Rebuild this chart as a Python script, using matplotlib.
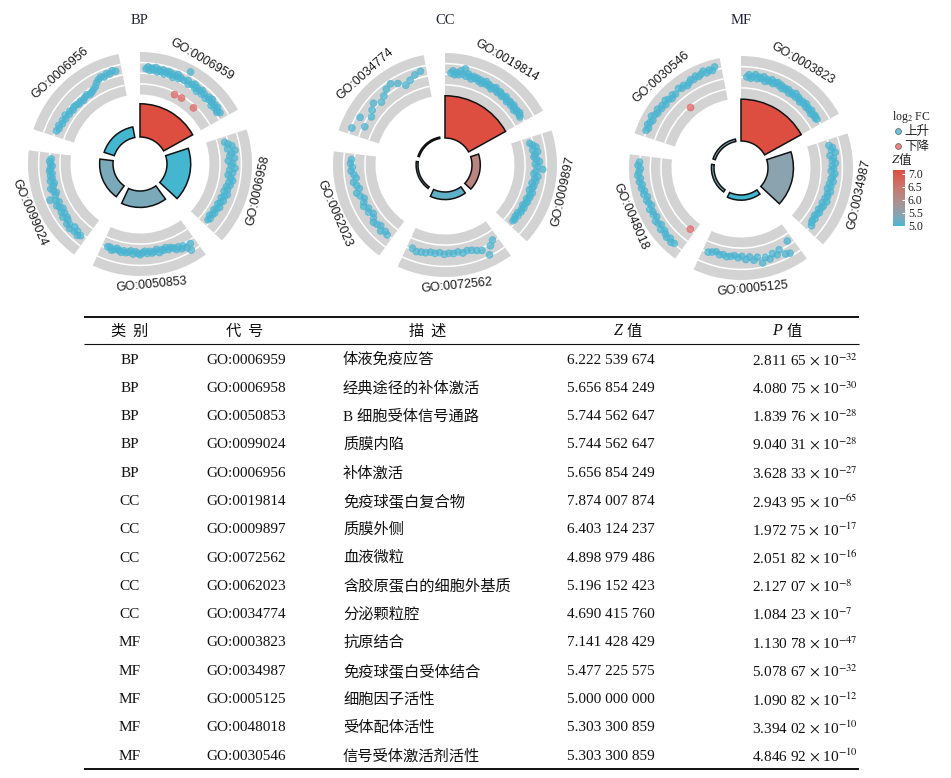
import numpy as np
import matplotlib
matplotlib.use('Agg')
import matplotlib.pyplot as plt
from matplotlib.patches import Wedge, Arc
from matplotlib.colors import ListedColormap, Normalize, to_rgb
import matplotlib.colorbar as mcolorbar

plt.rcParams['mathtext.fontset'] = 'stix'

# ---------------- data ----------------
panels = ['BP', 'CC', 'MF']
categories = ['BP'] * 5 + ['CC'] * 5 + ['MF'] * 5
go_ids = ['GO:0006959', 'GO:0006958', 'GO:0050853', 'GO:0099024', 'GO:0006956',
          'GO:0019814', 'GO:0009897', 'GO:0072562', 'GO:0062023', 'GO:0034774',
          'GO:0003823', 'GO:0034987', 'GO:0005125', 'GO:0048018', 'GO:0030546']
descriptions = ['体液免疫应答', '经典途径的补体激活', 'B 细胞受体信号通路', '质膜内陷', '补体激活',
                '免疫球蛋白复合物', '质膜外侧', '血液微粒', '含胶原蛋白的细胞外基质', '分泌颗粒腔',
                '抗原结合', '免疫球蛋白受体结合', '细胞因子活性', '受体配体活性', '信号受体激活剂活性']
z_values = [6.222539674, 5.656854249, 5.744562647, 5.744562647, 5.656854249,
            7.874007874, 6.403124237, 4.898979486, 5.196152423, 4.690415760,
            7.141428429, 5.477225575, 5.000000000, 5.303300859, 5.303300859]
p_values = [2.81165e-32, 4.08075e-30, 1.83976e-28, 9.04031e-28, 3.62833e-27,
            2.94395e-65, 1.97275e-17, 2.05182e-16, 2.12707e-8, 1.08423e-7,
            1.13078e-47, 5.07867e-32, 1.09082e-12, 3.39402e-10, 4.84692e-10]

# log2 FC of the genes of each term (in order along the sector)
lfc_0006959 = [2.5, 2.9, 2.2, 2.7, 2.4, 3.0, 2.1, 2.6, 2.3, 2.8, 2.0, 2.5, 2.8, 2.2, 2.6, 1.9, 2.4, 2.9,
               2.1, 2.5, -1.3, 2.3, 4.5, 2.7, 2.0, -1.2, 2.4, 2.8, 2.1, 2.5, 1.8, 2.3, 2.7, 2.0, 2.4,
               -1.3, 1.9, 2.6, 2.2, 2.8, 2.3, 1.8, 2.5, 2.0, 2.6, 2.1, 1.9, 2.4]
lfc_0006958 = [0.8, 1.4, 2.1, 1.1, 2.6, 1.8, 1.4, 2.3, 1.0, 1.9, 1.6, 2.4, 1.3, 2.0, 1.1, 1.7, 2.2,
               1.5, 1.9, 1.2, 1.6, 1.0, 1.9, 1.4, 0.9, 1.6, 1.2, 0.8, 1.5, 1.1, 0.7, 1.2, 1.0, 0.6,
               1.1, 0.9]
lfc_0050853 = [2.2, 3.5, 2.6, 1.9, 2.3, 1.6, 2.0, 1.4, 1.1, 1.4, 0.8, 1.2, 1.0, 1.5, 0.7, 1.1, 1.3,
               0.9, 1.3, 0.8, 1.1, 1.5, 1.2, 0.9, 1.4, 0.8, 1.1, 1.3, 1.0, 1.4, 1.1, 0.8, 1.2, 1.5,
               1.0, 1.1]
lfc_0099024 = [2.0, 2.4, 1.7, 2.2, 1.5, 2.5, 1.9, 2.3, 1.6, 1.4, 2.1, 1.3, 1.8, 1.1, 1.6, 2.0, 1.2,
               1.7, 2.8, 1.4, 1.0, 1.5, 1.9, 1.2, 0.9, 1.6, 1.1, 1.4, 1.0, 1.5, 1.3, 0.9, 1.2, 1.4, 1.1]
lfc_0006956 = [1.3, 1.0, 1.3, 0.8, 1.1, 0.7, 1.2, 0.6, 0.9, 0.5, 0.8, 0.7, 0.4, 0.6, 0.3, 0.6, 0.8,
               0.4, 0.6, 0.9, 1.2, 1.8, 2.2, 2.5, 2.2, 2.7, 2.4, 2.9, 2.6]
lfc_0019814 = [1.8, 2.3, 1.5, 2.0, 1.6, 2.5, 1.9, 3.1, 1.6, 2.2, 1.8, 1.3, 2.0, 1.7, 1.9, 1.4, 1.8,
               1.2, 1.6, 2.0, 1.4, 1.7, 1.5, 1.1, 1.6, 1.9, 1.4, 1.2, 1.7, 1.5, 1.1, 1.4, 1.7, 1.3,
               1.0, 1.5, 1.4, 1.1, 1.6, 1.3, 0.9, 1.4, 1.2, 1.6, 1.3, 1.1]
lfc_0009897 = [0.8, 1.3, 1.9, 1.1, 2.1, 1.5, 1.2, 1.7, 2.3, 1.4, 1.9, 3.0, 1.6, 1.2, 2.1, 1.5, 1.8,
               1.1, 1.6, 1.4, 0.9, 1.7, 1.3, 1.5, 1.0, 1.4, 1.2, 0.8, 1.3, 1.0, 1.2, 0.7, 1.1, 0.7,
               1.0, 0.9]
lfc_0072562 = [1.1, 1.9, 3.5, 2.0, 1.6, 1.2, 1.0, 1.3, 0.9, 1.1, 1.0, 1.2, 0.9, 1.1, 1.0, 1.3, 1.4,
               1.6, 1.2]
lfc_0062023 = [1.5, 1.2, 1.8, 1.0, 1.4, 1.7, 1.1, 0.6, 1.3, 0.9, 1.6, 1.2, 0.8, 1.4, 1.9, 1.1, 1.5,
               2.0, 1.3, 1.7, 2.2, 1.9, 2.3, 2.1]
lfc_0034774 = [3.5, 1.1, 2.9, 0.9, 1.6, 2.3, 1.2, 1.8, 2.6, 3.0, 2.2, 1.1, 1.7, 2.4, 2.8]
lfc_0003823 = [1.6, 2.1, 1.4, 1.8, 2.3, 1.5, 1.9, 1.7, 2.2, 1.3, 1.8, 1.6, 2.1, 1.4, 1.7, 2.0, 1.5,
               1.8, 1.2, 1.6, 1.4, 1.7, 1.1, 1.5, 1.3, 1.9, 1.2, 1.6, 1.4, 1.0, 1.5, 1.3, 1.7, 1.1,
               1.4, 1.2, 1.6, 1.0, 1.3, 1.5, 1.2, 1.4]
lfc_0034987 = [1.5, 2.1, 1.8, 2.5, 1.3, 2.0, 1.7, 2.3, 1.6, 1.9, 1.4, 2.2, 1.8, 1.5, 2.0, 1.3, 1.7,
               1.1, 1.9, 1.4, 1.6, 1.2, 1.8, 1.0, 1.5, 1.3, 0.9, 1.4, 1.1, 0.8, 1.3, 1.0, 1.2, 1.6]
lfc_0005125 = [0.6, 3.1, 2.8, 1.4, 2.2, 1.6, 2.5, 1.9, 2.9, 1.5, 2.0, 1.2, 1.7, 1.0, 1.3, 0.9, 1.1,
               1.3, 1.0, 1.2, 0.8, 1.1, 1.4]
lfc_0048018 = [-0.9, 3.6, 3.9, 3.4, 3.8, 3.5, 3.2, 3.7, 3.0, 3.4, 3.6, 2.9, 3.3, 3.1, 3.5, 2.8, 3.2,
               3.4, 3.0, 3.6, 3.3, 3.8, 3.5, 4.0, 3.7, 4.2, 3.9, 3.6, 4.1, 3.8]
lfc_0030546 = [3.9, 3.6, 4.1, 3.8, 3.5, 4.2, 3.7, 3.4, 3.9, 3.3, 3.6, 3.1, 3.8, 3.4, 3.0, 3.5, 3.2,
               -1.05, 3.7, 3.3, 3.6, 3.1, 3.4, 3.8, 3.5, 4.0, 3.6, 3.9, 4.3, 3.7, 4.1, 3.8, 4.4]

gene_lfc = {
    'GO:0006959': lfc_0006959, 'GO:0006958': lfc_0006958, 'GO:0050853': lfc_0050853,
    'GO:0099024': lfc_0099024, 'GO:0006956': lfc_0006956, 'GO:0019814': lfc_0019814,
    'GO:0009897': lfc_0009897, 'GO:0072562': lfc_0072562, 'GO:0062023': lfc_0062023,
    'GO:0034774': lfc_0034774, 'GO:0003823': lfc_0003823, 'GO:0034987': lfc_0034987,
    'GO:0005125': lfc_0005125, 'GO:0048018': lfc_0048018, 'GO:0030546': lfc_0030546,
}

legend_levels = ['上升', '下降']
cbar_ticks = [5.0, 5.5, 6.0, 6.5, 7.0]

# ---------------- style ----------------
W, H = 951, 778
BLUE_END = '#45B6D0'
RED_END = '#DD4E41'
GREY = '#D3D3D3'
DOT_UP = '#4AB4D0'
DOT_DOWN = '#E06464'
LAT_SERIF = 'Liberation Serif'
CJK = 'Noto Sans CJK SC'
MIXED = [LAT_SERIF, CJK]

M = np.array([[0.4124564, 0.3575761, 0.1804375],
              [0.2126729, 0.7151522, 0.0721750],
              [0.0193339, 0.1191920, 0.9503041]])
WP = np.array([0.95047, 1.0, 1.08883])


def srgb_to_lab(rgb):
    rgb = np.asarray(rgb, float)
    lin = np.where(rgb <= 0.04045, rgb / 12.92, ((rgb + 0.055) / 1.055) ** 2.4)
    t = (M @ lin) / WP
    d = 6 / 29
    f = np.where(t > d ** 3, np.cbrt(t), t / (3 * d * d) + 4 / 29)
    return np.array([116 * f[1] - 16, 500 * (f[0] - f[1]), 200 * (f[1] - f[2])])


def lab_to_srgb(lab):
    L, a, b = lab
    fy = (L + 16) / 116
    f = np.array([fy + a / 500, fy, fy - b / 200])
    d = 6 / 29
    t = np.where(f > d, f ** 3, 3 * d * d * (f - 4 / 29))
    lin = np.linalg.inv(M) @ (t * WP)
    lin = np.clip(lin, 0, None)
    rgb = np.where(lin <= 0.0031308, 12.92 * lin, 1.055 * lin ** (1 / 2.4) - 0.055)
    return np.clip(rgb, 0, 1)


lab_lo, lab_hi = srgb_to_lab(to_rgb(BLUE_END)), srgb_to_lab(to_rgb(RED_END))
cmap = ListedColormap([lab_to_srgb(lab_lo + (lab_hi - lab_lo) * s) for s in np.linspace(0, 1, 256)])

# geometry (pixel-like units)
R_IN, BAR_SPAN = 27.0, 44.0
TRACK_IN, TRACK_OUT = 69.5, 112.0
WHITE_R = [80.1, 90.75, 101.4]
LABEL_R = 121.0
LFC_LO, LFC_HI = -3.0, 6.0
SECTOR, SPAN = 72.0, 61.0
HALF = 145
PANEL_CX = [140, 445, 741]
PANEL_CY = [164, 165, 168]

fig = plt.figure(figsize=(W / 100, H / 100), dpi=100)

# full-figure axes for table & legend
tab = fig.add_axes([0, 0, 1, 1])
tab.set_xlim(0, W)
tab.set_ylim(H, 0)
tab.axis('off')

for k, name in enumerate(panels):
    cx, cy = PANEL_CX[k], PANEL_CY[k]
    ax = fig.add_axes([(cx - HALF) / W, 1 - (cy + HALF) / H, 2 * HALF / W, 2 * HALF / H])
    ax.set_xlim(-HALF, HALF)
    ax.set_ylim(-HALF, HALF)
    ax.set_aspect('equal')
    ax.axis('off')
    ax.patch.set_alpha(0)

    idx = [i for i, c in enumerate(categories) if c == name]
    mlp = -np.log10(np.array([p_values[i] for i in idx]))
    lo = np.round(mlp.min()) - 2
    hi = np.round(mlp.max()) + 2
    heights = (mlp - lo) / (hi - lo)
    zs = np.array([z_values[i] for i in idx])
    norm = Normalize(zs.min(), zs.max())

    for j, i in enumerate(idx):
        t0 = j * SECTOR
        t1 = t0 + SPAN
        th1, th2 = 90 - t1, 90 - t0
        ax.add_patch(Wedge((0, 0), TRACK_OUT, th1, th2, width=TRACK_OUT - TRACK_IN,
                           facecolor=GREY, edgecolor='none', zorder=1))
        for rl in WHITE_R:
            ax.add_patch(Arc((0, 0), 2 * rl, 2 * rl, theta1=th1, theta2=th2,
                             color='white', lw=1.1, zorder=2))
        rb = R_IN + heights[j] * BAR_SPAN
        ax.add_patch(Wedge((0, 0), rb, th1, th2, width=rb - R_IN,
                           facecolor=cmap(norm(z_values[i])), edgecolor='#111111', lw=1.1, zorder=3))
        vals = np.array(gene_lfc[go_ids[i]])
        n = len(vals)
        fr = 0.06 + 0.88 * np.arange(n) / (n - 1)
        ang = np.deg2rad(t0 + fr * SPAN)
        r = TRACK_IN + (vals - LFC_LO) / (LFC_HI - LFC_LO) * (TRACK_OUT - TRACK_IN)
        cols = [DOT_UP if v > 0 else DOT_DOWN for v in vals]
        ax.scatter(r * np.sin(ang), r * np.cos(ang), s=24, c=cols, alpha=0.72,
                   edgecolors=cols, linewidths=0.6, zorder=4)
        mid = t0 + SPAN / 2
        rot = (-mid) % 360
        if 90 < rot < 270:
            rot -= 180
        ax.text(LABEL_R * np.sin(np.deg2rad(mid)), LABEL_R * np.cos(np.deg2rad(mid)), go_ids[i],
                rotation=rot, rotation_mode='anchor', ha='center', va='center',
                fontsize=9, family='Liberation Sans', color='#1a1a1a', zorder=5)

    tab.text(cx, 20, name, ha='center', va='center', fontsize=10.5, family=LAT_SERIF, color='#22223a')

# ---------------- legend ----------------
tab.text(892, 117, 'log$_2$ FC', ha='left', va='center', fontsize=8.5, family=LAT_SERIF, color='#222')
for j, (lab, col) in enumerate(zip(legend_levels, [DOT_UP, DOT_DOWN])):
    y = 131 + 15 * j
    tab.scatter([898], [y], s=18, c=[col], alpha=0.8, edgecolors='#555555', linewidths=0.6)
    tab.text(904, y, lab, ha='left', va='center', fontsize=9, family=CJK, color='#222')
tab.text(892, 160, 'Z', ha='left', va='center', fontsize=9.5, family=LAT_SERIF, style='italic', color='#222')
tab.text(899, 160, '值', ha='left', va='center', fontsize=9, family=CJK, color='#222')

mf_idx = [i for i, c in enumerate(categories) if c == 'MF']
mf_z = [z_values[i] for i in mf_idx]
cax = fig.add_axes([893 / W, 1 - 226 / H, 12 / W, 56 / H])
cb = mcolorbar.ColorbarBase(cax, cmap=cmap, norm=Normalize(min(mf_z), max(mf_z)))
cb.outline.set_visible(False)
cb.set_ticks(cbar_ticks)
cb.set_ticklabels([f'{t:.1f}' for t in cbar_ticks])
cax.tick_params(axis='y', direction='in', length=2.5, width=0.8, color='white', pad=2,
                labelsize=8.5, labelcolor='#222')
for lbl in cax.get_yticklabels():
    lbl.set_family(LAT_SERIF)

# ---------------- table ----------------
X0, X1 = 84, 859
tab.plot([X0, X1], [317, 317], color='#111', lw=1.4, solid_capstyle='butt')
tab.plot([X0, X1], [344, 344], color='#111', lw=0.8, solid_capstyle='butt')
tab.plot([X0, X1], [769, 769], color='#111', lw=1.4, solid_capstyle='butt')

HY = 331
FS = 11
tab.text(130, HY, '类  别', ha='center', va='center', fontsize=FS, family=CJK, color='#111')
tab.text(245, HY, '代  号', ha='center', va='center', fontsize=FS, family=CJK, color='#111')
tab.text(428, HY, '描  述', ha='center', va='center', fontsize=FS, family=CJK, color='#111')
tab.text(618, HY, 'Z', ha='center', va='center', fontsize=FS + 0.5, family=LAT_SERIF, style='italic', color='#111')
tab.text(634, HY, '值', ha='center', va='center', fontsize=FS, family=CJK, color='#111')
tab.text(777, HY, 'P', ha='center', va='center', fontsize=FS + 0.5, family=LAT_SERIF, style='italic', color='#111')
tab.text(794, HY, '值', ha='center', va='center', fontsize=FS, family=CJK, color='#111')

for i in range(len(go_ids)):
    y = 360 + 28.3 * i
    tab.text(130, y, categories[i], ha='center', va='center', fontsize=FS, family=LAT_SERIF, color='#111')
    tab.text(246, y, go_ids[i], ha='center', va='center', fontsize=FS, family=LAT_SERIF, color='#111')
    tab.text(343, y, descriptions[i], ha='left', va='center', fontsize=FS, family=MIXED, color='#111')
    zs = f'{z_values[i]:.9f}'
    tab.text(611, y, f'{zs[:5]} {zs[5:8]} {zs[8:]}', ha='center', va='center', fontsize=FS,
             family=LAT_SERIF, color='#111')
    mant, ex = f'{p_values[i]:.5e}'.split('e')
    tab.text(752, y, f'{mant[:5]} {mant[5:]} $\\times$ 10$^{{{int(ex)}}}$', ha='left', va='center',
             fontsize=FS, family=LAT_SERIF, color='#111')

fig.savefig('out.png', dpi=100)
